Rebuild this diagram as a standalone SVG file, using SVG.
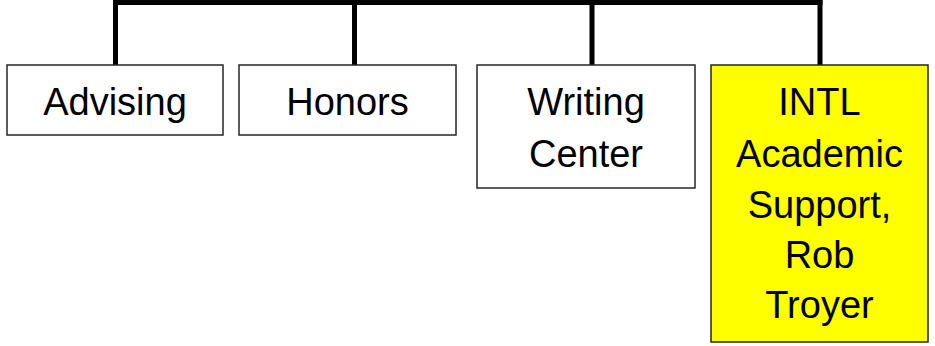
<svg xmlns="http://www.w3.org/2000/svg" width="935" height="346" viewBox="0 0 935 346">
<style>
.box{fill:#ffffff;stroke:#262626;stroke-width:1.5}
.hl{fill:#ffff00}
.lbl{font-family:"Liberation Sans",Arial,sans-serif;font-size:38px;fill:#000;text-anchor:middle}
.conn{stroke:#000;stroke-width:5;fill:none}
</style>
<rect width="935" height="346" fill="#ffffff"/>
<g id="connectors">
<path class="conn" d="M113 2.5H822.5"/>
<path class="conn" d="M115.5 0V65"/>
<path class="conn" d="M354.5 0V65"/>
<path class="conn" d="M592 0V65"/>
<path class="conn" d="M820 0V65"/>
</g>
<g id="advising">
<rect class="box" x="7" y="65" width="216" height="70"/>
<text class="lbl" x="115" y="115">Advising</text>
</g>
<g id="honors">
<rect class="box" x="239" y="65" width="217" height="70"/>
<text class="lbl" x="347.5" y="115">Honors</text>
</g>
<g id="writing-center">
<rect class="box" x="477" y="65" width="218" height="123"/>
<text class="lbl" x="586" y="115">Writing</text>
<text class="lbl" x="586" y="166.5">Center</text>
</g>
<g id="intl">
<rect class="box hl" x="711" y="65" width="217" height="277"/>
<text class="lbl" x="819.5" y="115">INTL</text>
<text class="lbl" x="819.5" y="166.5">Academic</text>
<text class="lbl" x="819.5" y="217.5">Support,</text>
<text class="lbl" x="819.5" y="268">Rob</text>
<text class="lbl" x="819.5" y="318">Troyer</text>
</g>
</svg>
